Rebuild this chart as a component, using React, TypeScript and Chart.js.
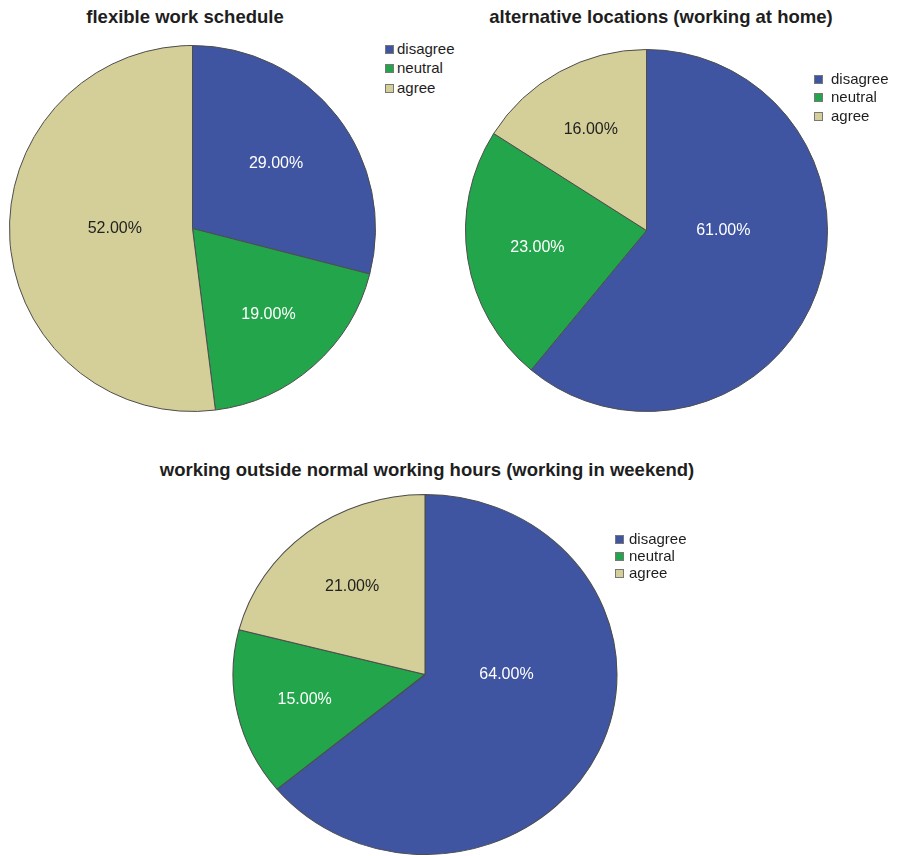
import React, { useEffect, useRef } from "react";
import { Chart, registerables } from "chart.js";

Chart.register(...registerables);

const categories = ["disagree", "neutral", "agree"];
const flexibleValues = [29, 19, 52];
const alternativeValues = [61, 23, 16];
const weekendValues = [64, 15, 21];
const titleFlexible = "flexible work schedule";
const titleAlternative = "alternative locations (working at home)";
const titleWeekend = "working outside normal working hours (working in weekend)";

const sliceColors = ["#3f55a1", "#23a64b", "#d4cf98"];
const labelColors = ["#ffffff", "#ffffff", "#222222"];
const FONT = "'Liberation Sans', Arial, Helvetica, sans-serif";

const pieLabels = {
  id: "pieLabels",
  beforeDatasetsDraw(chart: any, _args: any, opts: any) {
    const sx = opts.stretchX || 1;
    const ctx = chart.ctx;
    const meta = chart.getDatasetMeta(0);
    const arc = meta.data[0];
    ctx.save();
    if (arc && sx !== 1) {
      ctx.translate(arc.x, arc.y);
      ctx.scale(sx, 1);
      ctx.translate(-arc.x, -arc.y);
    }
  },
  afterDatasetsDraw(chart: any, _args: any, opts: any) {
    const sx = opts.stretchX || 1;
    const ctx = chart.ctx;
    ctx.restore();
    const meta = chart.getDatasetMeta(0);
    const values = chart.data.datasets[0].data;
    ctx.save();
    ctx.font = `16px ${FONT}`;
    ctx.textAlign = "center";
    ctx.textBaseline = "middle";
    meta.data.forEach((arc: any, i: number) => {
      const p = arc.getProps(["x", "y", "startAngle", "endAngle", "outerRadius"], true);
      let half = (p.endAngle - p.startAngle) / 2;
      let mid = p.startAngle + half;
      if (half > Math.PI / 2) {
        // large slice: label at centroid of the half-disk on the side of its bisector
        mid = Math.cos(mid) >= 0 ? 0 : Math.PI;
        half = Math.PI / 2;
      }
      const d = (2 * p.outerRadius * Math.sin(half)) / (3 * half);
      const tx = p.x + Math.cos(mid) * d * sx;
      const ty = p.y + Math.sin(mid) * d;
      ctx.fillStyle = labelColors[i];
      ctx.fillText(`${Number(values[i]).toFixed(2)}%`, tx, ty);
    });
    ctx.restore();
  },
};

type PieProps = { values: number[]; left: number; top: number; width: number; height: number; stretchX?: number };

function Pie({ values, left, top, width, height, stretchX = 1 }: PieProps) {
  const ref = useRef<HTMLCanvasElement>(null);
  useEffect(() => {
    if (!ref.current) return;
    const chart = new Chart(ref.current, {
      type: "pie",
      data: {
        labels: categories,
        datasets: [
          {
            data: values,
            backgroundColor: sliceColors,
            borderColor: "#4d4d4d",
            borderWidth: 1,
          },
        ],
      },
      options: {
        responsive: false,
        animation: false,
        devicePixelRatio: 1,
        layout: { padding: 0 },
        plugins: {
          legend: { display: false },
          tooltip: { enabled: false },
          title: { display: false },
          pieLabels: { stretchX },
        } as any,
      },
      plugins: [pieLabels],
    });
    return () => chart.destroy();
  }, [values, stretchX]);
  return (
    <canvas
      ref={ref}
      width={width}
      height={height}
      style={{ position: "absolute", left, top, width, height }}
    />
  );
}

function Title({ text, cx, top }: { text: string; cx: number; top: number }) {
  return (
    <div
      style={{
        position: "absolute",
        left: cx - 350,
        width: 700,
        top,
        textAlign: "center",
        font: `bold 18.5px ${FONT}`,
        lineHeight: "20px",
        color: "#1e1e1e",
        whiteSpace: "nowrap",
      }}
    >
      {text}
    </div>
  );
}

function Legend({ left, tops, textLeft }: { left: number; tops: number[]; textLeft: number }) {
  return (
    <>
      {categories.map((c, i) => (
        <React.Fragment key={c}>
          <div
            style={{
              position: "absolute",
              left,
              top: tops[i],
              width: 7,
              height: 7,
              background: sliceColors[i],
              border: "1px solid #777",
            }}
          />
          <div
            style={{
              position: "absolute",
              left: textLeft,
              top: tops[i] - 4,
              font: `15px ${FONT}`,
              lineHeight: "16px",
              color: "#1e1e1e",
              whiteSpace: "nowrap",
            }}
          >
            {c}
          </div>
        </React.Fragment>
      ))}
    </>
  );
}

export default function App() {
  useEffect(() => {
    document.body.style.margin = "0";
    document.body.style.background = "#ffffff";
  }, []);
  return (
    <div style={{ position: "relative", width: 899, height: 856, background: "#fff", overflow: "hidden" }}>
      <Title text={titleFlexible} cx={185} top={7} />
      <Title text={titleAlternative} cx={661} top={7} />
      <Title text={titleWeekend} cx={427} top={460} />
      <Pie values={flexibleValues} left={9} top={45} width={367} height={367} />
      <Pie values={alternativeValues} left={465} top={49} width={363} height={363} />
      <Pie values={weekendValues} left={232} top={494} width={386} height={361} stretchX={192 / 180} />
      <Legend left={385} tops={[45, 64, 84]} textLeft={397} />
      <Legend left={814} tops={[75, 93, 112]} textLeft={831} />
      <Legend left={615} tops={[535, 552, 569]} textLeft={629} />
    </div>
  );
}
